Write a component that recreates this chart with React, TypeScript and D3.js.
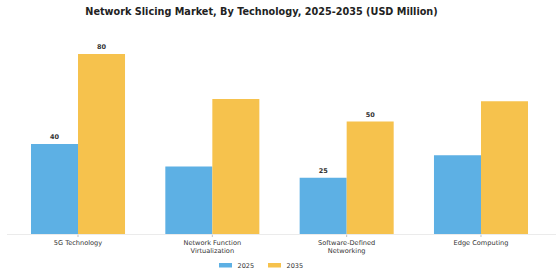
import React from "react";
import * as d3 from "d3";

const categories = ["5G Technology", "Network Function\nVirtualization", "Software-Defined\nNetworking", "Edge Computing"];
const series = ["2025", "2035"];
const values2025 = [40, 30, 25, 35];
const values2035 = [80, 60, 50, 59];
const labeled = [true, false, true, false];
const colors = ["#5DB0E4", "#F6C24D"];

const W = 560, H = 280;

export default function App() {
  const x = d3.scaleBand<number>().domain(d3.range(categories.length)).range([31, 528]).paddingInner(0.3).paddingOuter(0);
  const xs = d3.scaleBand<string>().domain(series).range([0, x.bandwidth()]).padding(0);
  const y = d3.scaleLinear().domain([0, 80]).range([234, 54]);
  const data = [values2025, values2035];
  const font = "DejaVu Sans, sans-serif";
  return (
    <svg width={W} height={H} style={{ position: "absolute", left: 0, top: 0, background: "#fff" }} fontFamily={font}>
      <text x={261.5} y={14.5} textAnchor="middle" fontSize={9.7} fontWeight="bold" fill="#222">
        Network Slicing Market, By Technology, 2025-2035 (USD Million)
      </text>
      {categories.map((c, i) => (
        <g key={c}>
          {series.map((s, j) => {
            const v = data[j][i];
            const bx = (x(i) as number) + (xs(s) as number);
            return (
              <g key={s}>
                <rect x={bx} y={y(v)} width={xs.bandwidth()} height={y(0) - y(v)} fill={colors[j]} />
                {labeled[i] && (
                  <text x={bx + xs.bandwidth() / 2} y={y(v) - 5} textAnchor="middle" fontSize={6.5} fontWeight="bold" fill="#333">
                    {v}
                  </text>
                )}
              </g>
            );
          })}
          <line x1={(x(i) as number) + x.bandwidth() / 2} x2={(x(i) as number) + x.bandwidth() / 2} y1={234} y2={237} stroke="#999" strokeWidth={0.6} />
          {c.split("\n").map((line, k) => (
            <text key={k} x={(x(i) as number) + x.bandwidth() / 2} y={244.5 + k * 8} textAnchor="middle" fontSize={6.6} fill="#333">
              {line}
            </text>
          ))}
        </g>
      ))}
      <line x1={7} x2={556} y1={234.5} y2={234.5} stroke="#e6e6e6" strokeWidth={0.8} />
      {series.map((s, j) => (
        <g key={s} transform={`translate(${219 + j * 49},263)`}>
          <rect x={0} y={0} width={13} height={4.5} fill={colors[j]} />
          <text x={18.5} y={4.8} fontSize={6.5} fill="#333">{s}</text>
        </g>
      ))}
    </svg>
  );
}
